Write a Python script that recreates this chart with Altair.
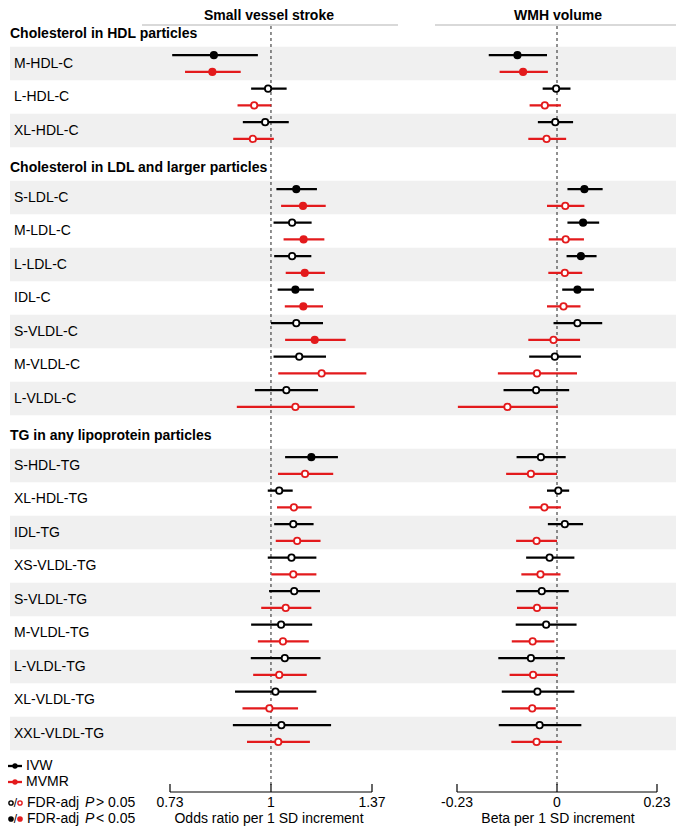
import altair as alt
import pandas as pd

FONT = "Liberation Sans"
BLACK = "#000000"
RED = "#e31a1c"
BAND = "#f0f0f0"

# ---------------- data ----------------
sections = ["Cholesterol in HDL particles",
            "Cholesterol in LDL and larger particles",
            "TG in any lipoprotein particles"]
sec_rows = [
    ["M-HDL-C", "L-HDL-C", "XL-HDL-C"],
    ["S-LDL-C", "M-LDL-C", "L-LDL-C", "IDL-C", "S-VLDL-C", "M-VLDL-C", "L-VLDL-C"],
    ["S-HDL-TG", "XL-HDL-TG", "IDL-TG", "XS-VLDL-TG", "S-VLDL-TG", "M-VLDL-TG",
     "L-VLDL-TG", "XL-VLDL-TG", "XXL-VLDL-TG"],
]

# Small vessel stroke (odds ratio)
svs_ivw_or = [0.837, 0.991, 0.982, 1.082, 1.068, 1.068, 1.079, 1.082, 1.092, 1.049,
              1.134, 1.026, 1.072, 1.066, 1.075, 1.032, 1.044, 1.014, 1.033]
svs_ivw_lo = [0.735, 0.940, 0.916, 1.017, 1.008, 1.010, 1.021, 1.000, 1.008, 0.951,
              1.045, 0.990, 1.010, 0.990, 0.994, 0.940, 0.939, 0.894, 0.888]
svs_ivw_hi = [0.960, 1.050, 1.057, 1.154, 1.135, 1.134, 1.143, 1.176, 1.187, 1.158,
              1.232, 1.070, 1.142, 1.152, 1.165, 1.137, 1.167, 1.152, 1.206]
svs_ivw_sig = [1, 0, 0, 1, 0, 0, 1, 0, 0, 0, 1, 0, 0, 0, 0, 0, 0, 0, 0]

svs_mv_or = [0.833, 0.949, 0.945, 1.105, 1.107, 1.111, 1.106, 1.146, 1.171, 1.079,
             1.112, 1.074, 1.085, 1.072, 1.047, 1.038, 1.026, 0.995, 1.023]
svs_mv_lo = [0.765, 0.901, 0.889, 1.032, 1.040, 1.047, 1.044, 1.045, 1.023, 0.899,
             1.022, 1.019, 1.015, 1.001, 0.970, 0.960, 0.946, 0.915, 0.928]
svs_mv_hi = [0.910, 1.001, 1.009, 1.186, 1.181, 1.183, 1.176, 1.262, 1.346, 1.298,
             1.214, 1.135, 1.167, 1.152, 1.134, 1.125, 1.118, 1.088, 1.129]
svs_mv_sig = [1, 0, 0, 1, 1, 1, 1, 1, 0, 0, 0, 0, 0, 0, 0, 0, 0, 0, 0]

# WMH volume (beta)
wmh_ivw_b = [-0.091, -0.002, -0.004, 0.063, 0.060, 0.055, 0.047, 0.047, -0.005, -0.048,
             -0.037, 0.003, 0.018, -0.017, -0.035, -0.025, -0.060, -0.045, -0.040]
wmh_ivw_lo = [-0.157, -0.033, -0.044, 0.024, 0.024, 0.022, 0.012, -0.008, -0.064, -0.123,
              -0.093, -0.023, -0.021, -0.071, -0.094, -0.095, -0.135, -0.127, -0.134]
wmh_ivw_hi = [-0.023, 0.031, 0.037, 0.105, 0.097, 0.091, 0.085, 0.104, 0.055, 0.028,
              0.020, 0.028, 0.060, 0.040, 0.027, 0.045, 0.018, 0.040, 0.056]
wmh_ivw_sig = [1, 0, 0, 1, 1, 1, 1, 0, 0, 0, 0, 0, 0, 0, 0, 0, 0, 0, 0]

wmh_mv_b = [-0.078, -0.028, -0.024, 0.019, 0.020, 0.018, 0.015, -0.008, -0.046, -0.114,
            -0.060, -0.029, -0.047, -0.038, -0.046, -0.056, -0.055, -0.057, -0.047]
wmh_mv_lo = [-0.132, -0.063, -0.066, -0.023, -0.019, -0.020, -0.023, -0.066, -0.136, -0.228,
             -0.117, -0.064, -0.094, -0.082, -0.092, -0.104, -0.109, -0.108, -0.105]
wmh_mv_hi = [-0.021, 0.009, 0.021, 0.063, 0.062, 0.058, 0.054, 0.053, 0.046, 0.002,
             0.000, 0.009, 0.000, 0.008, 0.002, -0.006, 0.002, -0.003, 0.011]
wmh_mv_sig = [1, 0, 0, 0, 0, 0, 0, 0, 0, 0, 0, 0, 0, 0, 0, 0, 0, 0, 0]

svs_ticks = [0.73, 1, 1.37]
svs_tick_labels = ["0.73", "1", "1.37"]
wmh_ticks = [-0.23, 0, 0.23]
wmh_tick_labels = ["-0.23", "0", "0.23"]

# ---------------- tables ----------------
hdr_rows, lab_rows = [], []
idx = 0
for s, names in zip(sections, sec_rows):
    hdr_rows.append({"text": s, "row": idx + 0.11})
    idx += 1
    for k, n in enumerate(names):
        lab_rows.append({"label": n, "row": idx, "y0": idx - 0.5, "y1": idx + 0.5,
                         "band": k % 2 == 0})
        idx += 1
hdr_df = pd.DataFrame(hdr_rows)
lab_df = pd.DataFrame(lab_rows)
band_df = lab_df[lab_df["band"]]


def build(est_a, lo_a, hi_a, sig_a, est_b, lo_b, hi_b, sig_b):
    recs = []
    for i, r in enumerate(lab_rows):
        for est, lo, hi, sig, col, off in [
            (est_a[i], lo_a[i], hi_a[i], sig_a[i], BLACK, -0.25),
            (est_b[i], lo_b[i], hi_b[i], sig_b[i], RED, 0.25),
        ]:
            recs.append({"est": est, "lo": lo, "hi": hi, "pos": r["row"] + off,
                         "strokec": col, "fillc": col if sig else "#ffffff"})
    return pd.DataFrame(recs)


svs_df = build(svs_ivw_or, svs_ivw_lo, svs_ivw_hi, svs_ivw_sig,
               svs_mv_or, svs_mv_lo, svs_mv_hi, svs_mv_sig)
wmh_df = build(wmh_ivw_b, wmh_ivw_lo, wmh_ivw_hi, wmh_ivw_sig,
               wmh_mv_b, wmh_mv_lo, wmh_mv_hi, wmh_mv_sig)

yscale = alt.Scale(domain=[0, 24], range=[22, 826], nice=False, zero=False)
xL = alt.Scale(type="log", domain=[0.73, 1.37], range=[162, 364], nice=False)
xR = alt.Scale(domain=[-0.23, 0.23], range=[449, 649], nice=False, zero=False)

AX_Y = 784
layers = []

# row bands
layers.append(alt.Chart(band_df).mark_rect(color=BAND).encode(
    x=alt.value(2), x2=alt.value(668),
    y=alt.Y("y0:Q", scale=yscale, axis=None), y2="y1:Q"))

# panel titles + underlines
for cx, x1, x2, t in [(261, 134, 390, "Small vessel stroke"), (550, 427, 668, "WMH volume")]:
    layers.append(alt.Chart(pd.DataFrame({"t": [t]})).mark_rule(color="#cccccc", strokeWidth=1.5).encode(
        x=alt.value(x1), x2=alt.value(x2), y=alt.value(17)))
    layers.append(alt.Chart(pd.DataFrame({"t": [t]})).mark_text(
        font=FONT, fontSize=14, fontWeight="bold", baseline="top", align="center").encode(
        x=alt.value(cx), y=alt.value(1), text="t:N"))

# reference dashed lines
for sc, v in [(xL, 1), (xR, 0)]:
    layers.append(alt.Chart(pd.DataFrame({"v": [v]})).mark_rule(
        color="#222222", strokeDash=[3, 3], strokeWidth=1).encode(
        x=alt.X("v:Q", scale=sc, axis=None), y=alt.value(18), y2=alt.value(AX_Y - 4)))

# CIs and points
for df, sc in [(svs_df, xL), (wmh_df, xR)]:
    layers.append(alt.Chart(df).mark_rule(strokeWidth=2.3).encode(
        x=alt.X("lo:Q", scale=sc, axis=None), x2="hi:Q",
        y=alt.Y("pos:Q", scale=yscale, axis=None),
        color=alt.Color("strokec:N", scale=None)))
    layers.append(alt.Chart(df).mark_point(shape="circle", filled=True, size=40,
                                           strokeWidth=1.8, opacity=1).encode(
        x=alt.X("est:Q", scale=sc, axis=None),
        y=alt.Y("pos:Q", scale=yscale, axis=None),
        fill=alt.Fill("fillc:N", scale=None),
        stroke=alt.Stroke("strokec:N", scale=None)))

# row labels and section headers
layers.append(alt.Chart(lab_df).mark_text(font=FONT, fontSize=14, align="left", baseline="middle").encode(
    x=alt.value(6), y=alt.Y("row:Q", scale=yscale, axis=None), text="label:N"))
layers.append(alt.Chart(hdr_df).mark_text(font=FONT, fontSize=14, fontWeight="bold",
                                          align="left", baseline="middle").encode(
    x=alt.value(2), y=alt.Y("row:Q", scale=yscale, axis=None), text="text:N"))

# manual bottom axes
for sc, ticks, labs, title, tx in [(xL, svs_ticks, svs_tick_labels, "Odds ratio per 1 SD increment", 261),
                                   (xR, wmh_ticks, wmh_tick_labels, "Beta per 1 SD increment", 550)]:
    tdf = pd.DataFrame({"t": ticks, "lab": labs})
    layers.append(alt.Chart(pd.DataFrame({"a": [ticks[0]], "b": [ticks[-1]]})).mark_rule(
        color=BLACK, strokeWidth=1.2).encode(
        x=alt.X("a:Q", scale=sc, axis=None), x2="b:Q", y=alt.value(AX_Y)))
    layers.append(alt.Chart(tdf).mark_rule(color=BLACK, strokeWidth=1.2).encode(
        x=alt.X("t:Q", scale=sc, axis=None), y=alt.value(AX_Y - 8), y2=alt.value(AX_Y)))
    layers.append(alt.Chart(tdf).mark_text(font=FONT, fontSize=14, baseline="middle").encode(
        x=alt.X("t:Q", scale=sc, axis=None), y=alt.value(AX_Y + 11), text="lab:N"))
    layers.append(alt.Chart(pd.DataFrame({"t": [title]})).mark_text(
        font=FONT, fontSize=14, baseline="middle").encode(
        x=alt.value(tx), y=alt.value(AX_Y + 27), text="t:N"))

# legend: methods
for yv, col, name in [(758, BLACK, "IVW"), (774, RED, "MVMR")]:
    d = pd.DataFrame({"n": [name]})
    layers.append(alt.Chart(d).mark_rule(color=col, strokeWidth=2.3).encode(
        x=alt.value(0), x2=alt.value(14), y=alt.value(yv)))
    layers.append(alt.Chart(d).mark_point(shape="circle", filled=True, size=28, color=col, opacity=1).encode(
        x=alt.value(7), y=alt.value(yv)))
    layers.append(alt.Chart(d).mark_text(font=FONT, fontSize=14, align="left", baseline="middle").encode(
        x=alt.value(18), y=alt.value(yv), text="n:N"))

# legend: significance
for yv, filled, sym in [(AX_Y + 11, False, "> 0.05"), (AX_Y + 27, True, "< 0.05")]:
    d = pd.DataFrame({"s": [sym]})
    for xv, col in [(3, BLACK), (12, RED)]:
        layers.append(alt.Chart(d).mark_point(shape="circle", filled=True, size=18, strokeWidth=1.4,
                                              opacity=1, stroke=col,
                                              fill=col if filled else "#ffffff").encode(
            x=alt.value(xv), y=alt.value(yv)))
    layers.append(alt.Chart(pd.DataFrame({"s": ["/"]})).mark_text(font=FONT, fontSize=12, baseline="middle").encode(
        x=alt.value(7.5), y=alt.value(yv), text="s:N"))
    layers.append(alt.Chart(pd.DataFrame({"s": ["FDR-adj"]})).mark_text(
        font=FONT, fontSize=14, align="left", baseline="middle").encode(
        x=alt.value(19), y=alt.value(yv), text="s:N"))
    layers.append(alt.Chart(pd.DataFrame({"s": ["P"]})).mark_text(
        font=FONT, fontSize=14, fontStyle="italic", align="left", baseline="middle").encode(
        x=alt.value(77), y=alt.value(yv), text="s:N"))
    layers.append(alt.Chart(d).mark_text(font=FONT, fontSize=14, align="left", baseline="middle").encode(
        x=alt.value(88), y=alt.value(yv), text="s:N"))

chart = alt.layer(*layers).resolve_scale(x="independent").properties(
    width=668, height=818, padding=0,
    autosize=alt.AutoSizeParams(type="none")
).configure_view(stroke=None)

chart.save("out.html", embed_options={"renderer": "svg", "actions": False})
